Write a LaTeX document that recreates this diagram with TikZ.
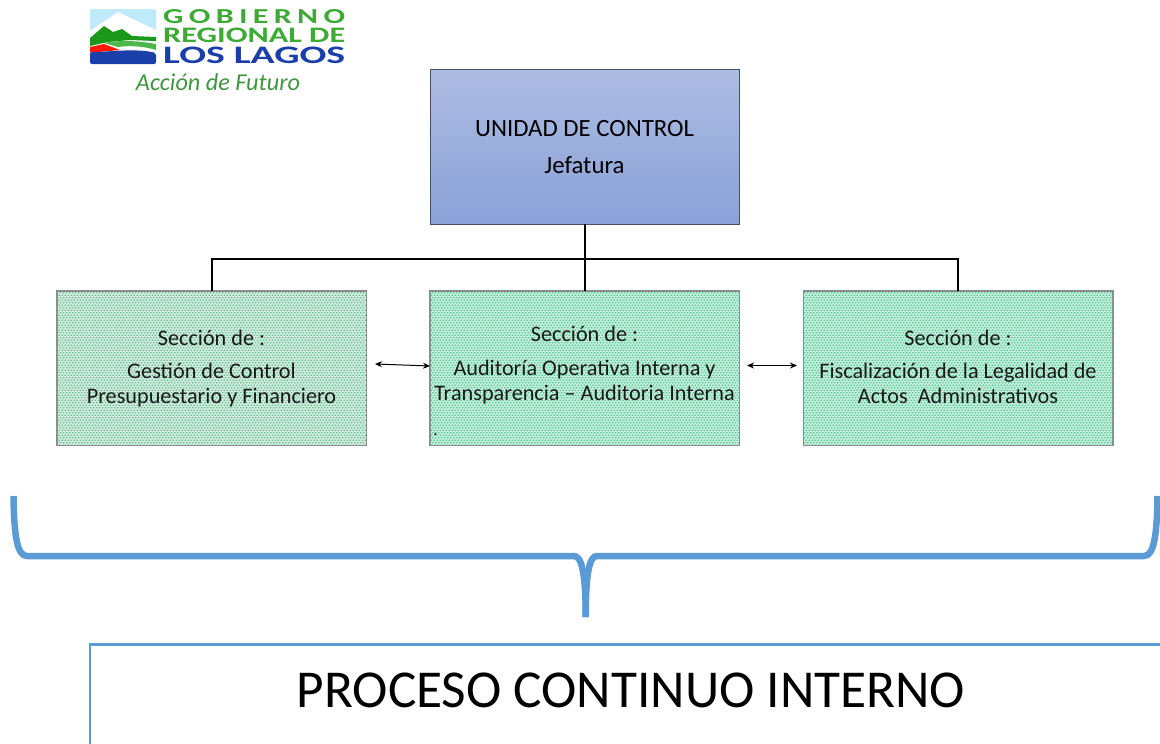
\documentclass[tikz,border=0pt]{standalone}
\usepackage{fontspec}
\setmainfont{Carlito}
\usetikzlibrary{patterns,arrows.meta}
\definecolor{bracec}{HTML}{5B9BD5}
\definecolor{topa}{HTML}{AEBCE2}
\definecolor{topb}{HTML}{8AA2D8}
\definecolor{dotg}{HTML}{4FC394}
\definecolor{dotl}{HTML}{5FB890}
\definecolor{paleg}{HTML}{C6F0DC}
\definecolor{palel}{HTML}{D4EEDF}
\definecolor{lgreen}{HTML}{3DAA35}
\definecolor{lblue}{HTML}{1B3FA8}
\pgfdeclarepatternformonly{gdots}{\pgfqpoint{-1pt}{-1pt}}{\pgfqpoint{4pt}{6pt}}{\pgfqpoint{3pt}{5pt}}{%
  \pgfpathcircle{\pgfqpoint{0.75pt}{1.25pt}}{0.95pt}\pgfusepath{fill}
  \pgfpathcircle{\pgfqpoint{2.25pt}{3.75pt}}{0.95pt}\pgfusepath{fill}
}
\tikzset{
  px/.style={x=1pt,y=-1pt},
  topbox/.style={draw=black!50!topb,line width=.7pt,minimum width=309pt,minimum height=155pt,inner sep=0pt,top color=topa,bottom color=topb},
  secbox/.style={draw=black!45,line width=.6pt,minimum width=309pt,minimum height=154pt,inner sep=0pt},
  sectext/.style={align=center,font=\fontsize{22.2}{25}\selectfont,text=black!90,inner sep=0pt},
  conn/.style={line width=2pt,black},
  biarrow/.style={line width=1pt,{Stealth[length=7pt,width=6pt]}-{Stealth[length=7pt,width=6pt]}},
  bracepath/.style={bracec,line width=6.5pt},
}
\begin{document}
\begin{tikzpicture}[px]
\useasboundingbox (0,0) rectangle (1160,744);
% logo
\fill[rounded corners=2pt,fill=cyan!25] (90,9) rectangle (156,43);
\fill[white] (90,31) -- (118,12) -- (156,30) -- (156,44) -- (90,44) -- cycle;
\fill[green!55!black!90] (90,38) -- (104,26) -- (113,32) -- (122,29) -- (132,36) -- (156,37) -- (156,41) -- (130,40) -- (108,42) -- (90,46) -- cycle;
\fill[green!60!black!70] (104,43) .. controls (125,39) and (145,42) .. (156,44) -- (156,50) .. controls (140,45) and (125,46) .. (118,47) -- cycle;
\fill[red!80!orange] (90,47) -- (104,44) -- (120,50) -- (98,52) -- (90,52) -- cycle;
\fill[rounded corners=2pt,fill=lblue] (90,52) .. controls (110,52) and (135,48) .. (156,53) -- (156,64) -- (90,64) -- cycle;
\node[anchor=west,inner sep=0pt,text=lgreen] (logoa) at (163,16.5) {\resizebox{182pt}{14pt}{\bfseries G\,O\,B\,I\,E\,R\,N\,O}};
\node[anchor=west,inner sep=0pt,text=lgreen] (logob) at (163,35) {\resizebox{182pt}{14.5pt}{\bfseries REGIONAL DE}};
\node[anchor=west,inner sep=0pt,text=lblue] (logoc) at (163,55.5) {\resizebox{182pt}{16.5pt}{\bfseries LOS LAGOS}};
\node[anchor=center,inner sep=0pt,text=green!45!black!75] (logod) at (218,82) {\resizebox{164pt}{!}{\itshape Acción de Futuro}};
% boxes
\node[topbox] (top) at (584.5,146.5) {};
\node[secbox,fill=palel] (left) at (211.5,368) {};
\fill[pattern=gdots,pattern color=dotl] (left.south west) rectangle (left.north east);
\node[secbox,fill=paleg] (mid) at (584.5,368) {};
\fill[pattern=gdots,pattern color=dotg] (mid.south west) rectangle (mid.north east);
\node[secbox,fill=paleg] (right) at (958,368) {};
\fill[pattern=gdots,pattern color=dotg] (right.south west) rectangle (right.north east);
\draw[secbox] (left.south west) rectangle (left.north east);
\draw[secbox] (mid.south west) rectangle (mid.north east);
\draw[secbox] (right.south west) rectangle (right.north east);
% texts
\node[align=center,inner sep=0pt,font=\fontsize{24.8}{37}\selectfont] (toptext) at (584.5,147) {UNIDAD DE CONTROL\\[0pt]Jefatura};
\node[sectext] (ltext) at (211.5,369) {Sección de :\\[8pt]Gestión de Control\\Presupuestario y Financiero};
\node[sectext] (mtext) at (584.5,365.5) {Sección de :\\[9pt]Auditoría Operativa Interna y\\Transparencia – Auditoria Interna};
\node[sectext] (rtext) at (958,367) {Sección de :\\[8pt]Fiscalización de la Legalidad de\\Actos\ \ Administrativos};
\node[sectext,font=\fontsize{14}{14}\selectfont\bfseries] (dot) at (435.5,435) {.};
% connectors
\draw[conn] (top.south) -- (mid.north);
\draw[conn] (left.north) |- (584.5,259) -| (right.north);
\coordinate (al) at (375,364);
\coordinate (ar) at (797,365.5);
\coordinate (ml) at (430,366);
\coordinate (mr) at (747,365.5);
\draw[biarrow] (al) -- (ml);
\draw[biarrow] (mr) -- (ar);
% brace
\draw[bracepath] (13.5,496) .. controls (14,535) and (17,556) .. (27,556) -- (574,556) .. controls (581,556) and (585.7,570) .. (585.7,617);
\draw[bracepath] (1157.5,496) .. controls (1157,535) and (1154,556) .. (1144,556) -- (597,556) .. controls (590,556) and (585.7,570) .. (585.7,617);
% process box
\draw[bracec,line width=2.5pt] (90,760) -- (90,644.5) -- (1175,644.5);
\node[inner sep=0pt,font=\fontsize{53.3}{53}\selectfont] (proc) at (631,690) {PROCESO CONTINUO INTERNO};
\end{tikzpicture}
\end{document}
